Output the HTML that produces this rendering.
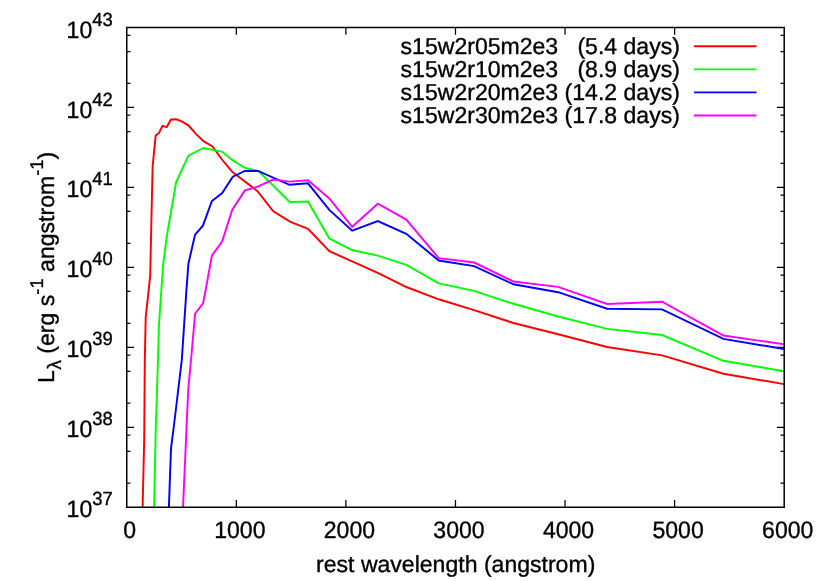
<!DOCTYPE html>
<html><head><meta charset="utf-8"><title>plot</title>
<style>html,body{margin:0;padding:0;background:#fff}svg{display:block;will-change:transform}text{text-rendering:geometricPrecision;stroke:#000;stroke-width:0.35px;stroke-linejoin:round;font-family:"Liberation Sans",sans-serif;fill:#000}</style></head><body>
<svg width="830" height="581" viewBox="0 0 830 581">
<rect x="0" y="0" width="830" height="581" fill="#fff"/>
<defs><clipPath id="c"><rect x="126.75" y="27.50" width="657.45" height="479.75"/></clipPath></defs>
<path d="M126.75 35.25h3.70 M784.20 35.25h-3.70 M126.75 51.57h3.70 M784.20 51.57h-3.70 M126.75 83.39h3.70 M784.20 83.39h-3.70 M126.75 107.46h7.30 M784.20 107.46h-7.30 M126.75 115.21h3.70 M784.20 115.21h-3.70 M126.75 131.53h3.70 M784.20 131.53h-3.70 M126.75 163.35h3.70 M784.20 163.35h-3.70 M126.75 187.42h7.30 M784.20 187.42h-7.30 M126.75 195.17h3.70 M784.20 195.17h-3.70 M126.75 211.49h3.70 M784.20 211.49h-3.70 M126.75 243.31h3.70 M784.20 243.31h-3.70 M126.75 267.38h7.30 M784.20 267.38h-7.30 M126.75 275.12h3.70 M784.20 275.12h-3.70 M126.75 291.44h3.70 M784.20 291.44h-3.70 M126.75 323.26h3.70 M784.20 323.26h-3.70 M126.75 347.33h7.30 M784.20 347.33h-7.30 M126.75 355.08h3.70 M784.20 355.08h-3.70 M126.75 371.40h3.70 M784.20 371.40h-3.70 M126.75 403.22h3.70 M784.20 403.22h-3.70 M126.75 427.29h7.30 M784.20 427.29h-7.30 M126.75 435.04h3.70 M784.20 435.04h-3.70 M126.75 451.36h3.70 M784.20 451.36h-3.70 M126.75 483.18h3.70 M784.20 483.18h-3.70 M236.32 507.25v-7.30 M236.32 27.50v7.30 M345.90 507.25v-7.30 M345.90 27.50v7.30 M455.48 507.25v-7.30 M455.48 27.50v7.30 M565.05 507.25v-7.30 M565.05 27.50v7.30 M674.62 507.25v-7.30 M674.62 27.50v7.30" stroke="#000" stroke-width="1.25" fill="none"/>
<g clip-path="url(#c)" fill="none" stroke-width="1.95" stroke-linejoin="miter" stroke-linecap="butt">
<polyline stroke="#ff0000" points="142.60,507.60 144.20,440.00 144.80,360.00 145.70,317.70 150.20,275.60 151.30,225.00 152.65,166.00 155.70,135.60 158.90,133.10 162.50,125.90 166.70,127.10 171.00,119.50 176.40,119.30 181.80,121.40 188.40,125.30 195.70,133.70 203.50,141.20 212.50,146.40 221.60,159.00 232.20,171.90 257.50,191.20 273.10,211.10 289.90,221.60 308.00,228.80 329.40,251.20 352.10,261.30 377.80,272.80 406.40,287.00 438.70,299.30 474.10,310.10 513.40,323.00 558.20,334.30 607.10,347.00 662.10,355.40 723.40,373.80 784.10,384.10"/>
<polyline stroke="#00ff00" points="154.10,507.60 155.50,440.00 155.90,425.00 158.00,360.00 158.90,326.10 161.20,292.00 163.10,264.80 166.70,237.00 176.10,182.30 188.40,155.70 203.50,148.00 222.20,151.80 232.20,159.90 244.90,167.95 258.30,170.90 289.70,201.90 308.00,201.60 329.30,238.40 352.10,250.00 377.80,255.60 406.40,264.90 438.70,283.40 474.10,290.90 513.40,303.80 558.20,316.50 607.10,328.90 662.10,335.00 723.40,360.80 784.10,371.30"/>
<polyline stroke="#0000ff" points="168.90,507.60 171.00,448.40 174.00,425.00 181.80,360.00 186.30,292.00 188.40,263.60 195.10,234.60 202.90,225.70 211.90,201.00 222.20,193.10 232.80,176.70 244.90,170.90 258.00,170.90 289.50,184.80 308.00,183.30 329.30,209.90 352.20,230.70 377.80,221.10 406.30,233.80 438.70,260.50 474.10,266.10 513.40,284.30 558.10,292.20 607.10,308.70 662.10,309.40 723.40,338.90 784.10,349.00"/>
<polyline stroke="#ff00ff" points="183.00,507.60 186.00,440.00 186.60,425.00 188.40,387.50 191.30,357.00 195.10,313.50 203.10,303.30 205.20,292.50 211.90,255.70 222.20,241.30 232.20,209.90 244.90,190.40 257.80,186.70 273.20,179.50 289.50,181.60 308.00,180.30 329.30,198.40 352.20,226.80 377.80,203.70 406.30,219.60 438.70,258.10 474.20,262.50 513.40,281.50 558.10,286.90 607.10,303.90 662.10,301.70 723.40,335.50 784.10,344.30"/>
</g>
<rect x="126.75" y="27.50" width="657.45" height="479.75" fill="none" stroke="#000" stroke-width="1.5"/>
<text transform="translate(66.6,37.55) scale(1,1.03)" font-size="23.06">10</text><text transform="translate(92.3,25.55) scale(1,1.03)" font-size="18.45">43</text>
<text transform="translate(66.6,117.51) scale(1,1.03)" font-size="23.06">10</text><text transform="translate(92.3,105.51) scale(1,1.03)" font-size="18.45">42</text>
<text transform="translate(66.6,197.47) scale(1,1.03)" font-size="23.06">10</text><text transform="translate(92.3,185.47) scale(1,1.03)" font-size="18.45">41</text>
<text transform="translate(66.6,277.43) scale(1,1.03)" font-size="23.06">10</text><text transform="translate(92.3,265.43) scale(1,1.03)" font-size="18.45">40</text>
<text transform="translate(66.6,357.38) scale(1,1.03)" font-size="23.06">10</text><text transform="translate(92.3,345.38) scale(1,1.03)" font-size="18.45">39</text>
<text transform="translate(66.6,437.34) scale(1,1.03)" font-size="23.06">10</text><text transform="translate(92.3,425.34) scale(1,1.03)" font-size="18.45">38</text>
<text transform="translate(66.6,517.30) scale(1,1.03)" font-size="23.06">10</text><text transform="translate(92.3,505.30) scale(1,1.03)" font-size="18.45">37</text>
<text transform="translate(129.65,538.0) scale(1,1.03)" font-size="23.06" text-anchor="middle">0</text>
<text transform="translate(239.82,538.0) scale(1,1.03)" font-size="23.06" text-anchor="middle">1000</text>
<text transform="translate(349.40,538.0) scale(1,1.03)" font-size="23.06" text-anchor="middle">2000</text>
<text transform="translate(458.98,538.0) scale(1,1.03)" font-size="23.06" text-anchor="middle">3000</text>
<text transform="translate(568.55,538.0) scale(1,1.03)" font-size="23.06" text-anchor="middle">4000</text>
<text transform="translate(678.12,538.0) scale(1,1.03)" font-size="23.06" text-anchor="middle">5000</text>
<text transform="translate(787.70,538.0) scale(1,1.03)" font-size="23.06" text-anchor="middle">6000</text>
<text x="455.7" y="571.7" font-size="23.06" text-anchor="middle">rest wavelength (angstrom)</text>
<g transform="translate(54.0,383.0) rotate(-90)"><text x="0" y="0" font-size="23.06">L<tspan font-size="19.5" dx="0.4" dy="7.0">λ</tspan><tspan dy="-7.0"> (erg s</tspan><tspan font-size="18.45" dy="-11.5">-1</tspan><tspan dy="11.5"> angstrom</tspan><tspan font-size="18.45" dy="-11.5">-1</tspan><tspan dy="11.5">)</tspan></text></g>
<text x="400.6" y="54.30" font-size="23.06">s15w2r05m2e3</text><text x="679.9" y="54.30" font-size="23.06" text-anchor="end">(5.4 days)</text>
<path d="M693.9 46.20H756.5" stroke="#ff0000" stroke-width="1.85" fill="none"/>
<text x="400.6" y="77.15" font-size="23.06">s15w2r10m2e3</text><text x="679.9" y="77.15" font-size="23.06" text-anchor="end">(8.9 days)</text>
<path d="M693.9 69.30H756.5" stroke="#00ff00" stroke-width="1.85" fill="none"/>
<text x="400.6" y="100.00" font-size="23.06">s15w2r20m2e3</text><text x="679.9" y="100.00" font-size="23.06" text-anchor="end">(14.2 days)</text>
<path d="M693.9 92.40H756.5" stroke="#0000ff" stroke-width="1.85" fill="none"/>
<text x="400.6" y="122.85" font-size="23.06">s15w2r30m2e3</text><text x="679.9" y="122.85" font-size="23.06" text-anchor="end">(17.8 days)</text>
<path d="M693.9 115.50H756.5" stroke="#ff00ff" stroke-width="1.85" fill="none"/>
</svg></body></html>
